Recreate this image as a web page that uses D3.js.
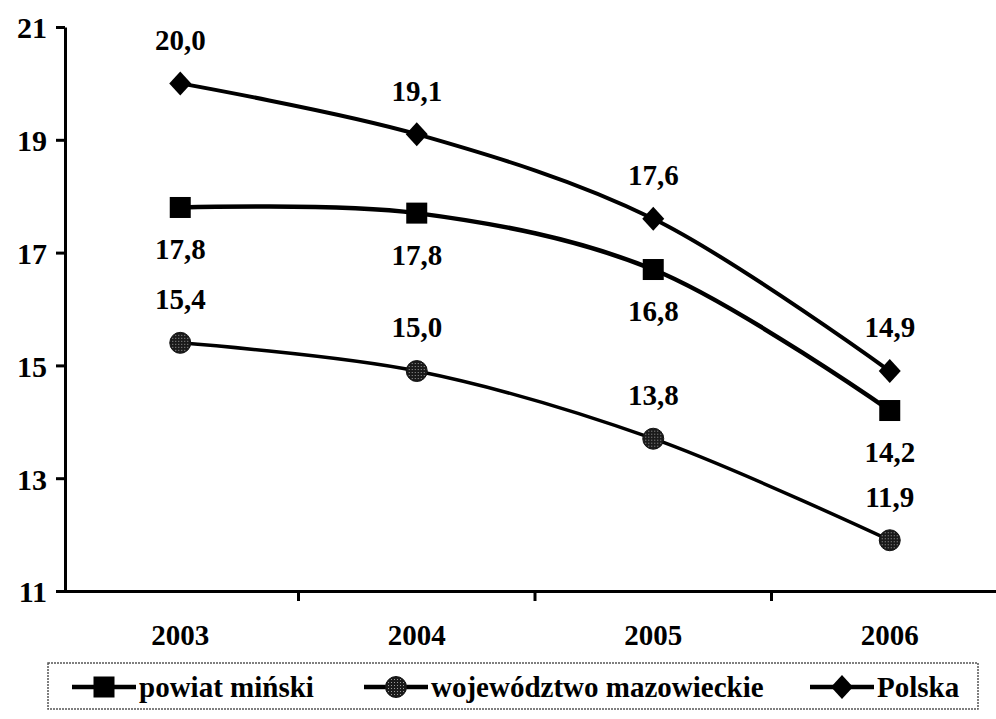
<!DOCTYPE html>
<html>
<head>
<meta charset="utf-8">
<script src="https://cdn.jsdelivr.net/npm/d3@7"></script>
<style>
  body { margin: 0; background: #fff; }
  svg { display: block; font-family: "Liberation Serif", "Times New Roman", serif; font-weight: bold; }
</style>
</head>
<body>
<svg id="chart" width="996" height="719"></svg>
<script>
// data
const years = ["2003", "2004", "2005", "2006"];
const powiat = [17.8, 17.7, 16.7, 14.2];
const powiatLabels = ["17,8", "17,8", "16,8", "14,2"];
const wojewodztwo = [15.4, 14.9, 13.7, 11.9];
const wojewodztwoLabels = ["15,4", "15,0", "13,8", "11,9"];
const polska = [20.0, 19.1, 17.6, 14.9];
const polskaLabels = ["20,0", "19,1", "17,6", "14,9"];
const yTicks = [11, 13, 15, 17, 19, 21];

const svg = d3.select("#chart");

const x = d3.scaleBand().domain(years).range([62, 1008]);
const y = d3.scaleLinear().domain([11, 21]).range([591, 27]);
const cx = d => x(d) + x.bandwidth() / 2;

// dotted fill for the circle markers
const defs = svg.append("defs");
const pat = defs.append("pattern")
  .attr("id", "dots")
  .attr("width", 3).attr("height", 3)
  .attr("patternUnits", "userSpaceOnUse");
pat.append("rect").attr("width", 3).attr("height", 3).attr("fill", "#1a1a1a");
pat.append("rect").attr("x", 1).attr("y", 1).attr("width", 1).attr("height", 1).attr("fill", "#9a9a9a");

// axes
const yAxis = d3.axisLeft(y).tickValues(yTicks).tickSize(9).tickSizeOuter(0).tickFormat(d3.format("d"));
const gy = svg.append("g").attr("transform", "translate(65,0)").call(yAxis);
gy.select(".domain").attr("stroke", "#000").attr("stroke-width", 3);
gy.selectAll(".tick line").attr("stroke", "#000").attr("stroke-width", 3);
gy.selectAll(".tick text")
  .attr("x", -18)
  .attr("dy", "0.36em")
  .style("font-size", "30px")
  .style("font-family", "Liberation Serif")
  .style("font-weight", "bold")
  .attr("fill", "#000");

const xAxis = d3.axisBottom(x).tickSize(0).tickSizeOuter(0);
const gx = svg.append("g").attr("transform", "translate(0,591)").call(xAxis);
gx.select(".domain").attr("stroke", "#000").attr("stroke-width", 3);
gx.selectAll(".tick text")
  .attr("y", 33)
  .attr("dy", "0.71em")
  .style("font-size", "29px")
  .style("font-family", "Liberation Serif")
  .style("font-weight", "bold")
  .attr("fill", "#000");

// category boundary ticks on x axis
svg.append("g").selectAll("line")
  .data(years.slice(1))
  .enter()
  .append("line")
  .attr("x1", d => x(d)).attr("x2", d => x(d))
  .attr("y1", 591).attr("y2", 601)
  .attr("stroke", "#000").attr("stroke-width", 3);

// lines
const line = d3.line()
  .x((d, i) => cx(years[i]))
  .y(d => y(d))
  .curve(d3.curveCatmullRom.alpha(0.5));

const series = [
  { values: wojewodztwo, labels: wojewodztwoLabels, width: 3.5, marker: "circle", dy: -44 },
  { values: powiat, labels: powiatLabels, width: 4.5, marker: "square", dy: 41 },
  { values: polska, labels: polskaLabels, width: 4, marker: "diamond", dy: -44 }
];

function drawMarker(g, type) {
  if (type === "square") {
    g.append("rect").attr("x", -10.5).attr("y", -10.5).attr("width", 21).attr("height", 21).attr("fill", "#000");
  } else if (type === "diamond") {
    g.append("path").attr("d", "M0,-12L11,0L0,12L-11,0Z").attr("fill", "#000");
  } else {
    g.append("circle").attr("r", 10.5).attr("fill", "url(#dots)").attr("stroke", "#111").attr("stroke-width", 1);
  }
}

series.forEach(s => {
  svg.append("path")
    .datum(s.values)
    .attr("d", line)
    .attr("fill", "none")
    .attr("stroke", "#000")
    .attr("stroke-width", s.width);

  s.values.forEach((v, i) => {
    const g = svg.append("g").attr("transform", `translate(${cx(years[i])},${y(v)})`);
    drawMarker(g, s.marker);
  });

  svg.append("g").selectAll("text")
    .data(s.values)
    .enter()
    .append("text")
    .attr("x", (d, i) => cx(years[i]))
    .attr("y", d => y(d) + s.dy)
    .attr("dy", "0.36em")
    .attr("text-anchor", "middle")
    .style("font-size", "29px")
    .text((d, i) => s.labels[i]);
});

// legend
svg.append("rect")
  .attr("x", 48).attr("y", 663).attr("width", 930).attr("height", 46)
  .attr("fill", "none")
  .attr("stroke", "#555")
  .attr("stroke-width", 1.5)
  .attr("stroke-dasharray", "2,1");

const legendItems = [
  { name: "powiat miński", marker: "square", x: 72 },
  { name: "województwo mazowieckie", marker: "circle", x: 364 },
  { name: "Polska", marker: "diamond", x: 810 }
];

legendItems.forEach(item => {
  const g = svg.append("g").attr("transform", `translate(${item.x},687)`);
  g.append("line").attr("x1", 0).attr("x2", 64).attr("y1", 0).attr("y2", 0)
    .attr("stroke", "#000").attr("stroke-width", 4.5);
  const m = g.append("g").attr("transform", "translate(32,0)");
  drawMarker(m, item.marker);
  g.append("text")
    .attr("x", 67)
    .attr("dy", "0.36em")
    .style("font-size", "29px")
    .text(item.name);
});
</script>
</body>
</html>
